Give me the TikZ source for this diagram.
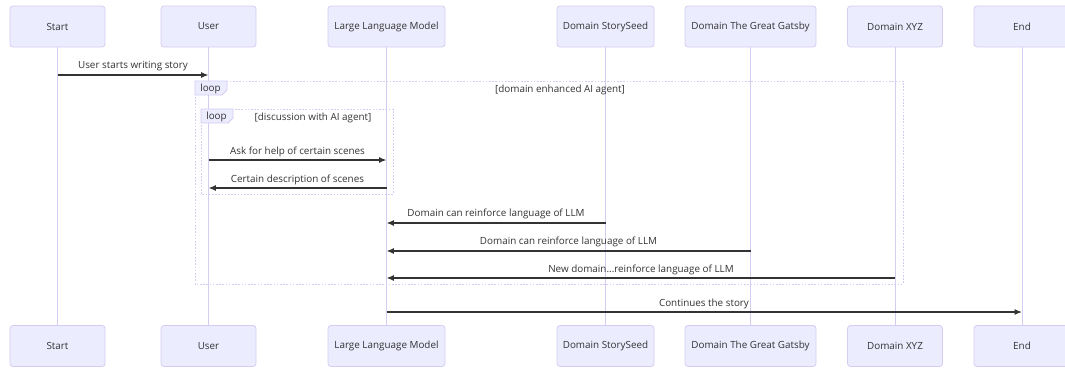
\documentclass[tikz,border=0pt]{standalone}
\usepackage{fontspec}
\setmainfont{Open Sans}
\usetikzlibrary{arrows.meta}
\definecolor{actbg}{HTML}{ECECFF}
\definecolor{actline}{HTML}{D6CCF2}
\definecolor{sig}{HTML}{333333}
\tikzset{
  x=0.75pt, y=-0.75pt,
  actor/.style={draw=actline, fill=actbg, rounded corners=2.25pt, line width=0.6pt,
    inner sep=0pt, text=sig, font=\fontsize{7.4}{8}\selectfont},
  lifeline/.style={draw=actline, line width=0.75pt},
  msg/.style={draw=sig, line width=1pt, -{Latex[length=5.5pt,width=4.5pt]}},
  msgtext/.style={text=sig, font=\fontsize{7.4}{8}\selectfont, inner sep=0pt},
  loopframe/.style={draw=actline, line width=0.75pt, dash pattern=on 1.2pt off 1.2pt},
  looplabel/.style={draw=actline, fill=actbg, line width=0.6pt},
}
\begin{document}
\begin{tikzpicture}
\useasboundingbox (0,0) rectangle (1065,368);
\clip (0,0) rectangle (1065,368);
\fill[white] (0,0) rectangle (1065,368);

% participant columns: name, centre x, box width
\foreach \n/\cx/\w/\t in {st/57.5/95/Start, us/208.5/95/User, llm/386.5/117/Large Language Model,
    ss/605.5/97/Domain StorySeed, gg/750.5/131/Domain The Great Gatsby,
    xyz/895/95/Domain XYZ, en/1022/96/End}{
  \node[actor, minimum width=\w*0.75pt, minimum height=41*0.75pt] (\n top) at (\cx,26.5) {\t};
  \node[actor, minimum width=\w*0.75pt, minimum height=41*0.75pt] (\n bot) at (\cx,346) {\t};
  \draw[lifeline] (\n top.south) -- (\n bot.north);
}

% outer loop frame
\coordinate (o1) at (195,81);
\coordinate (o2) at (903,284);
\draw[loopframe] (o1) rectangle (o2);
\draw[looplabel] (195,81) -- (227,81) -- (227,90) -- (222,95) -- (195,95) -- cycle;
\node[msgtext] (olabel) at (210.5,88.5) {loop};
\node[msgtext] (ocond) at (560,89.5) {[domain enhanced AI agent]};

% inner loop frame
\coordinate (i1) at (201,109);
\coordinate (i2) at (393,194);
\draw[loopframe] (i1) rectangle (i2);
\draw[looplabel] (201,109) -- (233,109) -- (233,118) -- (228,123) -- (201,123) -- cycle;
\node[msgtext] (ilabel) at (216.5,116.5) {loop};
\node[msgtext] (icond) at (313,117.5) {[discussion with AI agent]};

% messages
\coordinate (m1a) at (57.5,75);  \coordinate (m1b) at (208.5,75);
\draw[msg] (m1a) -- (m1b);
\node[msgtext] (t1) at (133,66.5) {User starts writing story};

\coordinate (m2a) at (208.5,160); \coordinate (m2b) at (386.5,160);
\draw[msg] (m2a) -- (m2b);
\node[msgtext] (t2) at (297.5,151.5) {Ask for help of certain scenes};

\coordinate (m3a) at (386.5,188); \coordinate (m3b) at (208.5,188);
\draw[msg] (m3a) -- (m3b);
\node[msgtext] (t3) at (297.5,179.5) {Certain description of scenes};

\coordinate (m4a) at (605.5,223); \coordinate (m4b) at (386.5,223);
\draw[msg] (m4a) -- (m4b);
\node[msgtext] (t4) at (496,214) {Domain can reinforce language of LLM};

\coordinate (m5a) at (750.5,251); \coordinate (m5b) at (386.5,251);
\draw[msg] (m5a) -- (m5b);
\node[msgtext] (t5) at (568.5,242) {Domain can reinforce language of LLM};

\coordinate (m6a) at (895,278); \coordinate (m6b) at (386.5,278);
\draw[msg] (m6a) -- (m6b);
\node[msgtext] (t6) at (641,269.5) {New domain...reinforce language of LLM};

\coordinate (m7a) at (386.5,312); \coordinate (m7b) at (1022,312);
\draw[msg] (m7a) -- (m7b);
\node[msgtext] (t7) at (704,303.5) {Continues the story};
\end{tikzpicture}
\end{document}
